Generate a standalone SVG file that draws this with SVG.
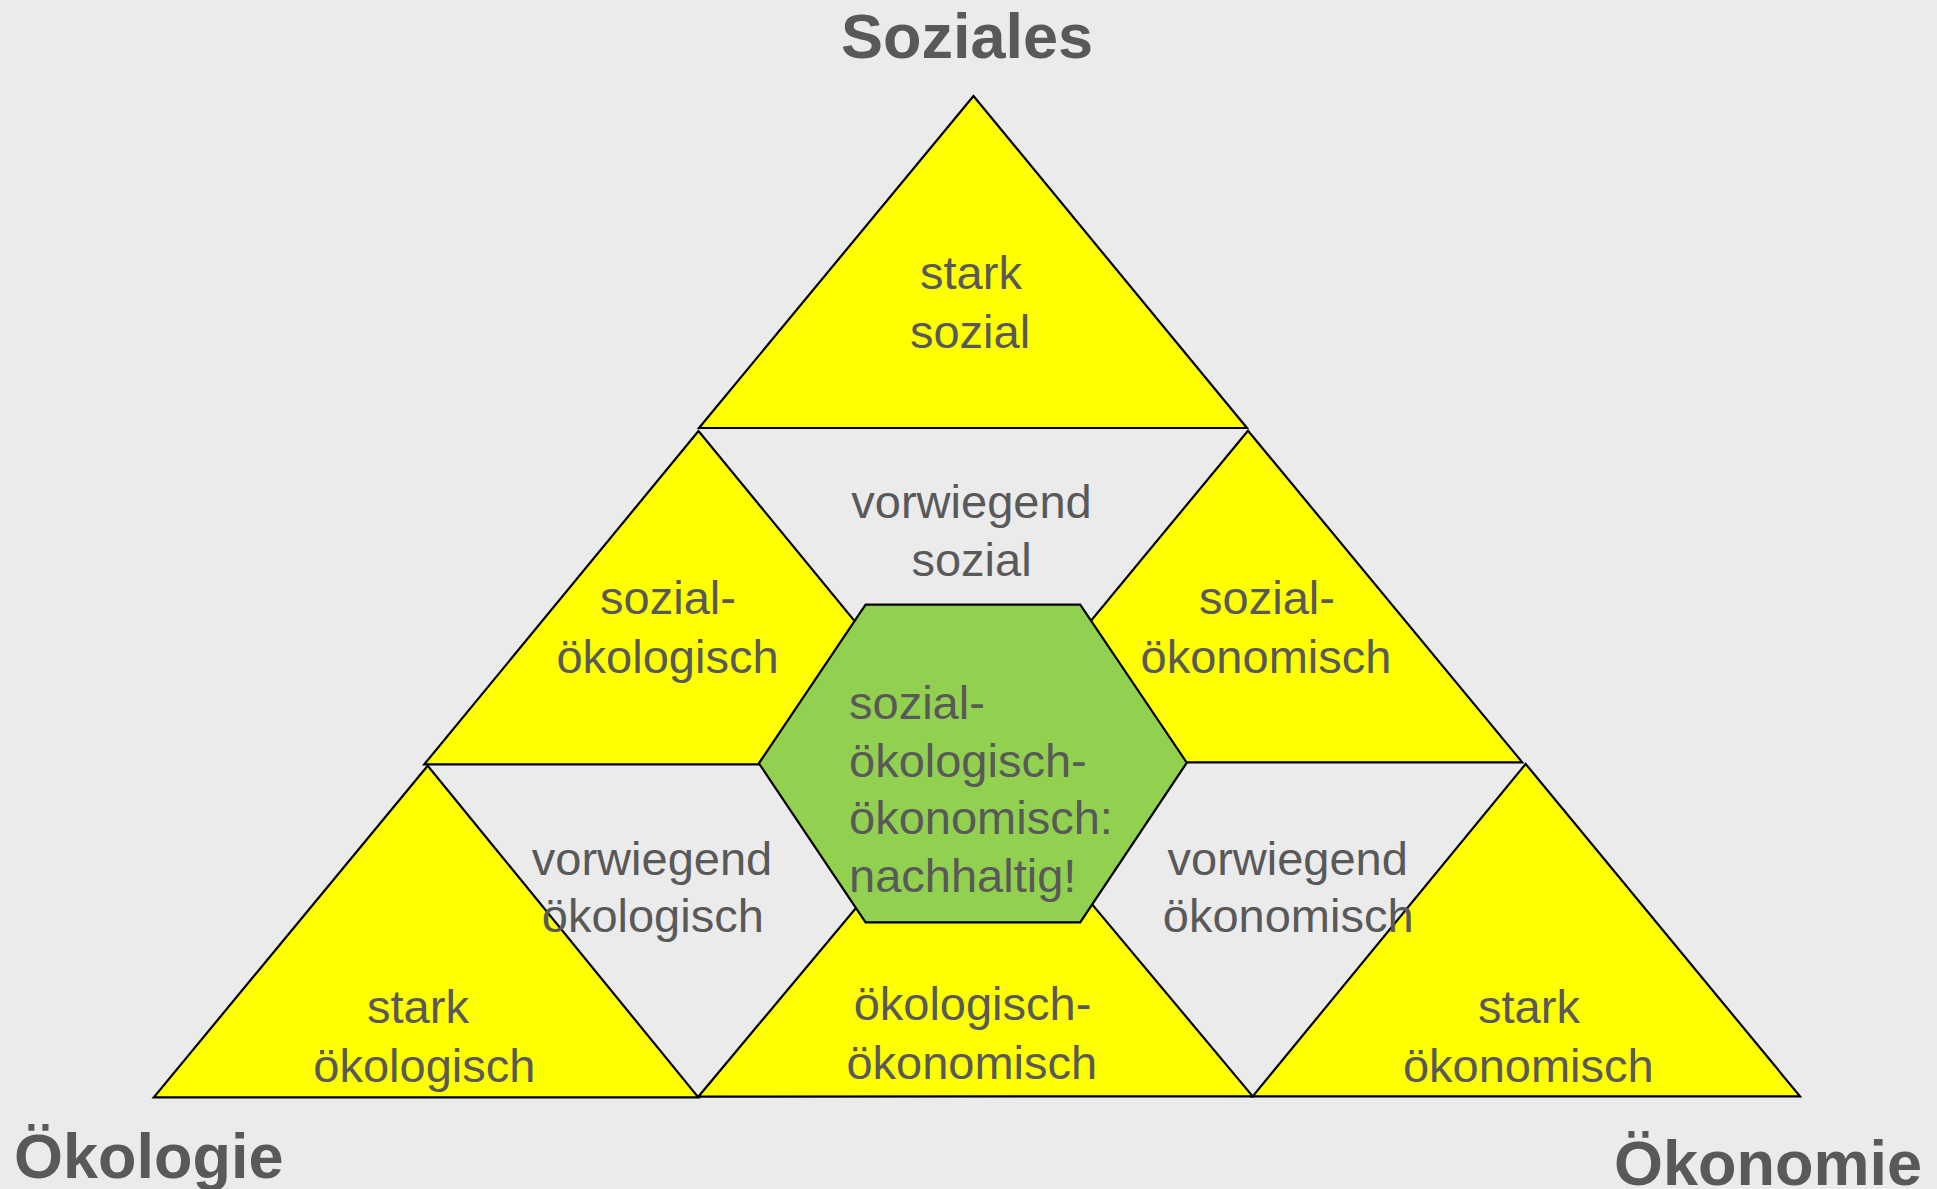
<svg xmlns="http://www.w3.org/2000/svg" width="1937" height="1189" viewBox="0 0 1937 1189">
<style>
.tri{fill:#ffff00;stroke:#000;stroke-width:2.2;stroke-linejoin:miter}
.hex{fill:#92d050;stroke:#000;stroke-width:2.2}
.t{font-family:"Liberation Sans",Arial,sans-serif;font-size:47px;fill:#595959}
.c{text-anchor:middle}
.h{font-family:"Liberation Sans",Arial,sans-serif;font-size:63px;font-weight:bold;fill:#595959}
</style>
<rect width="1937" height="1189" fill="#ebebeb"/>
<g id="connectors"></g>
<g id="top">
<polygon class="tri" points="973.5,96 699,428 1247,428"/>
<text class="t c" x="971" y="289">stark</text>
<text class="t c" x="970" y="348">sozial</text>
</g>
<g id="mid-left">
<polygon class="tri" points="698.5,431 424.3,764.3 972.2,764.3"/>
</g>
<g id="mid-right">
<polygon class="tri" points="1248,430.7 974,762.3 1522.3,762.3"/>
</g>
<g id="bottom-left">
<polygon class="tri" points="427.7,765.7 153.8,1097.3 698.3,1097.3"/>
</g>
<g id="bottom-middle">
<polygon class="tri" points="975.5,765 698.3,1096.7 1252.7,1096.3"/>
</g>
<g id="bottom-right">
<polygon class="tri" points="1525.7,764 1252.7,1096.3 1800,1096.3"/>
</g>
<g id="center">
<polygon class="hex" points="865.6,604.7 1080.2,604.7 1186.8,762.7 1080.2,922.3 865.6,922.3 758.9,763.3"/>
</g>
<g id="labels">
<text class="h c" x="967" y="58">Soziales</text>
<text class="h" x="14" y="1178">Ökologie</text>
<text class="h" x="1614" y="1185">Ökonomie</text>
<text class="t c" x="971.5" y="518">vorwiegend</text>
<text class="t c" x="971.5" y="576">sozial</text>
<text class="t c" x="668" y="614">sozial-</text>
<text class="t c" x="667.5" y="673">ökologisch</text>
<text class="t c" x="1267" y="614">sozial-</text>
<text class="t c" x="1266" y="673">ökonomisch</text>
<text class="t" x="849" y="719">sozial-</text>
<text class="t" x="849" y="777">ökologisch-</text>
<text class="t" x="849" y="834">ökonomisch:</text>
<text class="t" x="849" y="892">nachhaltig!</text>
<text class="t c" x="652" y="875">vorwiegend</text>
<text class="t c" x="652.8" y="932">ökologisch</text>
<text class="t c" x="1287.7" y="875">vorwiegend</text>
<text class="t c" x="1288.2" y="932">ökonomisch</text>
<text class="t c" x="418" y="1023">stark</text>
<text class="t c" x="424.4" y="1082">ökologisch</text>
<text class="t c" x="972.5" y="1020">ökologisch-</text>
<text class="t c" x="971.8" y="1079">ökonomisch</text>
<text class="t c" x="1529" y="1023">stark</text>
<text class="t c" x="1528.3" y="1082">ökonomisch</text>
</g>
</svg>
